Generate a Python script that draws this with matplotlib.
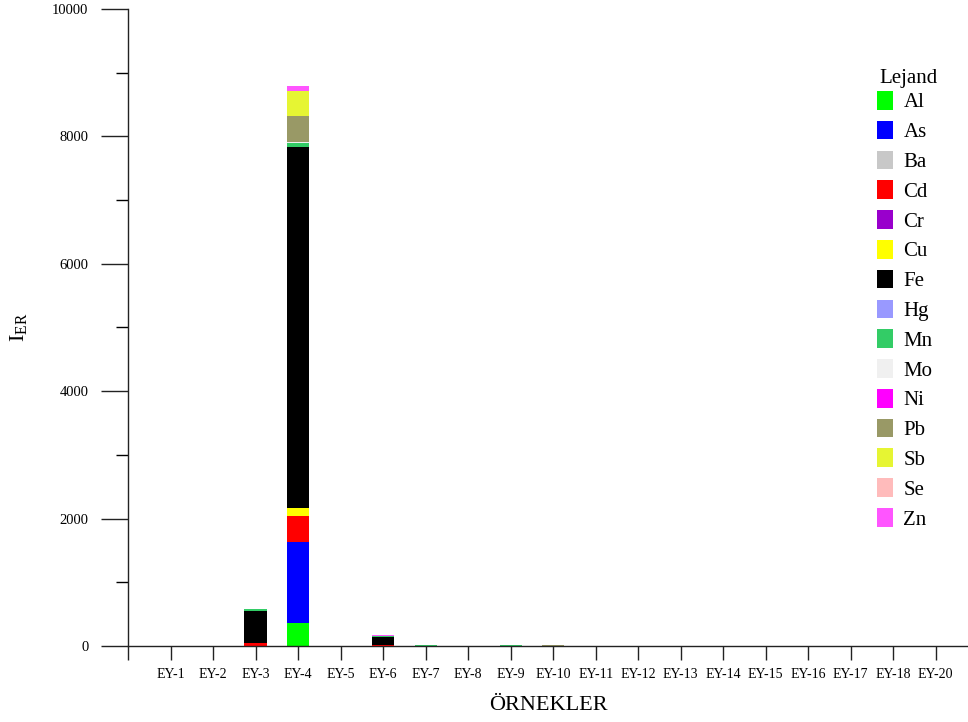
import matplotlib
matplotlib.use("Agg")
import matplotlib.pyplot as plt
from matplotlib.ticker import MultipleLocator
from matplotlib.patches import Patch

plt.rcParams['font.family'] = ['Liberation Serif', 'DejaVu Serif']
plt.rcParams['mathtext.fontset'] = 'custom'
plt.rcParams['mathtext.rm'] = 'Liberation Serif'

categories = ['EY-1', 'EY-2', 'EY-3', 'EY-4', 'EY-5', 'EY-6', 'EY-7', 'EY-8', 'EY-9', 'EY-10',
              'EY-11', 'EY-12', 'EY-13', 'EY-14', 'EY-15', 'EY-16', 'EY-17', 'EY-18', 'EY-20']

elements = ['Al', 'As', 'Ba', 'Cd', 'Cr', 'Cu', 'Fe', 'Hg', 'Mn', 'Mo', 'Ni', 'Pb', 'Sb', 'Se', 'Zn']

Al = [0, 0, 0, 362, 0, 0, 0, 0, 0, 0, 0, 0, 0, 0, 0, 0, 0, 0, 0]
As = [0, 0, 0, 1273, 0, 0, 0, 0, 0, 0, 0, 0, 0, 0, 0, 0, 0, 0, 0]
Ba = [0, 0, 0, 0, 0, 0, 0, 0, 0, 0, 0, 0, 0, 0, 0, 0, 0, 0, 0]
Cd = [0, 0, 40, 409, 0, 15, 0, 0, 0, 0, 0, 0, 0, 0, 0, 0, 0, 0, 0]
Cr = [0, 0, 0, 0, 0, 0, 0, 0, 0, 0, 0, 0, 0, 0, 0, 0, 0, 0, 0]
Cu = [0, 0, 0, 126, 0, 0, 0, 0, 0, 0, 0, 0, 0, 0, 0, 0, 0, 0, 0]
Fe = [0, 0, 510, 5665, 0, 130, 0, 0, 0, 0, 0, 0, 0, 0, 0, 0, 0, 0, 0]
Hg = [0, 0, 0, 0, 0, 0, 0, 0, 0, 0, 0, 0, 0, 0, 0, 0, 0, 0, 0]
Mn = [0, 0, 25, 63, 0, 15, 20, 0, 20, 0, 0, 0, 0, 0, 0, 0, 0, 0, 0]
Mo = [0, 0, 0, 17, 0, 0, 0, 0, 0, 0, 0, 0, 0, 0, 0, 0, 0, 0, 0]
Ni = [0, 0, 0, 0, 0, 0, 0, 0, 0, 0, 0, 0, 0, 0, 0, 0, 0, 0, 0]
Pb = [0, 0, 0, 403, 0, 0, 0, 0, 0, 20, 0, 0, 0, 0, 0, 0, 0, 0, 0]
Sb = [0, 0, 0, 398, 0, 0, 0, 0, 0, 0, 0, 0, 0, 0, 0, 0, 0, 0, 0]
Se = [0, 0, 0, 0, 0, 0, 0, 0, 0, 0, 0, 0, 0, 0, 0, 0, 0, 0, 0]
Zn = [0, 0, 12, 73, 0, 15, 0, 0, 0, 0, 0, 0, 0, 0, 0, 0, 0, 0, 0]

series = [Al, As, Ba, Cd, Cr, Cu, Fe, Hg, Mn, Mo, Ni, Pb, Sb, Se, Zn]
colors = ['#00ff00', '#0000ff', '#c8c8c8', '#ff0000', '#9900cc', '#ffff00', '#000000',
          '#9999ff', '#33cc66', '#f0f0f0', '#ff00ff', '#999966', '#e6f533', '#ffbbbb', '#ff55ff']

fig = plt.figure(figsize=(9.68, 7.22), dpi=100)
ax = fig.add_axes([128/968, 1-646/722, 1-128/968, (646-9)/722])

x = list(range(1, len(categories) + 1))
bottom = [0.0] * len(categories)
for name, vals, c in zip(elements, series, colors):
    ax.bar(x, vals, width=0.52, bottom=bottom, color=c, linewidth=0)
    bottom = [b + v for b, v in zip(bottom, vals)]

ax.set_xlim(0, 19.76)
ax.set_ylim(0, 10000)
ax.set_xticks([0] + x)
ax.set_xticklabels([''] + categories, fontsize=10)
ax.yaxis.set_major_locator(MultipleLocator(2000))
ax.yaxis.set_minor_locator(MultipleLocator(1000))
ax.tick_params(axis='y', which='major', direction='out', length=19.4, width=1, pad=9, labelsize=10.5)
ax.tick_params(axis='y', which='minor', direction='out', length=8.6, width=1)
ax.tick_params(axis='x', which='major', direction='out', length=10, width=1, pad=6)
for s in ['top', 'right']:
    ax.spines[s].set_visible(False)
for s in ['left', 'bottom']:
    ax.spines[s].set_linewidth(1)
    ax.spines[s].set_color('#222222')
ax.tick_params(colors='#222222', labelcolor='black')

ax.set_xlabel('ÖRNEKLER', fontsize=16)
ax.xaxis.label.set_va('center')
ax.xaxis.set_label_coords(0.5, (646-705)/637)
ax.set_ylabel(r'I$_{\mathrm{ER}}$', fontsize=16)
ax.yaxis.label.set_va('center')
ax.yaxis.set_label_coords((19-128)/840, 0.5)

handles = [Patch(facecolor=c, edgecolor='none') for c in colors]
fig.text(879/968, 1-83/722, 'Lejand', fontsize=15, ha='left', va='baseline')
leg = fig.legend(handles, elements, loc='upper left', bbox_to_anchor=(877/968, 1-91/722),
                 frameon=False, fontsize=15,
                 handlelength=0.77, handleheight=1.0,
                 labelspacing=0.4, handletextpad=0.5, borderpad=0, borderaxespad=0)

fig.savefig('out.png', dpi=100)
